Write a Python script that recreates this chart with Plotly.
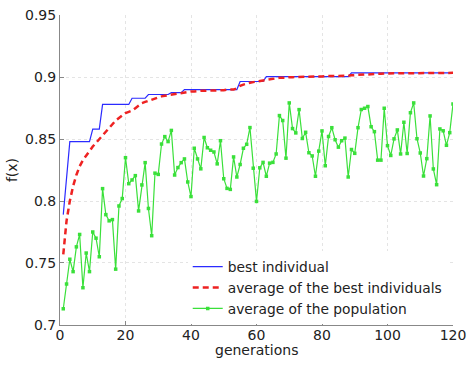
import plotly.graph_objects as go

generations = list(range(1, 121))

best_individual = (
    [0.789, 0.822] + [0.848] * 7 + [0.858] * 3 + [0.878] * 9 + [0.883] * 5
    + [0.886] * 7 + [0.8875] * 4 + [0.890] * 17 + [0.8965] * 8
    + [0.9005] * 26 + [0.9035] * 32
)

avg_best = [
    0.757, 0.784, 0.800, 0.812, 0.821, 0.828, 0.833, 0.837, 0.841, 0.844,
    0.847, 0.850, 0.853, 0.856, 0.859, 0.862, 0.865, 0.867, 0.869, 0.871,
    0.872, 0.873, 0.875, 0.877, 0.879, 0.880, 0.881, 0.882, 0.883, 0.884,
    0.8845, 0.885, 0.8855, 0.886, 0.8865, 0.887, 0.8875, 0.888, 0.888, 0.8885,
    0.8885, 0.889, 0.889, 0.889, 0.889, 0.889, 0.8895, 0.8895, 0.8895, 0.8895,
    0.890, 0.890, 0.890, 0.891, 0.893, 0.894, 0.895, 0.8955, 0.896, 0.8965,
    0.897, 0.8975, 0.898, 0.8985, 0.899, 0.899, 0.8995, 0.8995, 0.900, 0.900,
    0.900, 0.900, 0.900, 0.900, 0.9002, 0.9002, 0.9004, 0.9004, 0.9006, 0.9006,
    0.9008, 0.9008, 0.901, 0.901, 0.901, 0.901, 0.9012, 0.9012, 0.9015, 0.9018,
    0.902, 0.902, 0.9022, 0.9022, 0.9025, 0.9025, 0.9027, 0.9028, 0.903, 0.903,
    0.9032, 0.9032, 0.9032, 0.9033, 0.9033, 0.9033, 0.9033, 0.9034, 0.9034, 0.9034,
    0.9034, 0.9034, 0.9035, 0.9035, 0.9035, 0.9035, 0.9035, 0.9035, 0.9035, 0.9035,
]

avg_population = [
    0.713, 0.733, 0.753, 0.743, 0.763, 0.773, 0.730, 0.758, 0.743, 0.775,
    0.770, 0.755, 0.810, 0.789, 0.784, 0.785, 0.745, 0.796, 0.802, 0.835,
    0.814, 0.817, 0.8205, 0.792, 0.813, 0.831, 0.794, 0.772, 0.8225, 0.8215,
    0.846, 0.852, 0.848, 0.857, 0.821, 0.827, 0.831, 0.834, 0.8154, 0.8036,
    0.8426, 0.834, 0.826, 0.8513, 0.843, 0.841, 0.8396, 0.830, 0.8487, 0.818,
    0.8102, 0.8094, 0.8356, 0.8194, 0.8295, 0.8426, 0.8458, 0.8593, 0.8265, 0.7997,
    0.8268, 0.8312, 0.820, 0.8306, 0.8312, 0.838, 0.869, 0.865, 0.8346, 0.8792,
    0.8585, 0.855, 0.8738, 0.8505, 0.8555, 0.839, 0.8364, 0.820, 0.8403, 0.8566,
    0.8285, 0.8521, 0.8592, 0.8495, 0.8435, 0.8487, 0.8508, 0.8194, 0.8416, 0.8385,
    0.8592, 0.8739, 0.8749, 0.8763, 0.860, 0.856, 0.833, 0.833, 0.8749, 0.8447,
    0.8368, 0.8502, 0.8574, 0.838, 0.8636, 0.8384, 0.8713, 0.8792, 0.8503, 0.8388,
    0.8202, 0.8342, 0.8687, 0.8259, 0.8132, 0.8582, 0.8567, 0.845, 0.8552, 0.8784,
]

x_ticks = [0, 20, 40, 60, 80, 100, 120]
y_ticks = [0.7, 0.75, 0.8, 0.85, 0.9, 0.95]
y_tick_labels = ["0.7", "0.75", "0.8", "0.85", "0.9", "0.95"]

FONT = "DejaVu Sans, Liberation Sans, sans-serif"

fig = go.Figure()
fig.add_trace(go.Scatter(
    x=generations, y=best_individual, mode="lines", name="best individual",
    line=dict(color="#2b2bff", width=1.2),
))
fig.add_trace(go.Scatter(
    x=generations, y=avg_best, mode="lines", name="average of the best individuals",
    line=dict(color="#ee2222", width=2.5, dash="6px,4px"),
))
fig.add_trace(go.Scatter(
    x=generations, y=avg_population, mode="lines+markers", name="average of the population",
    line=dict(color="#3ae03a", width=1.2),
    marker=dict(color="#3ae03a", size=3.5, symbol="square"),
))

fig.update_layout(
    width=473, height=367,
    margin=dict(l=60, r=15, t=7, b=42),
    paper_bgcolor="white", plot_bgcolor="white",
    font=dict(family=FONT, size=14, color="#222"),
    showlegend=True,
    legend=dict(
        x=0.325, y=0.003, xanchor="left", yanchor="bottom",
        bgcolor="white", borderwidth=0,
        font=dict(family=FONT, size=13.8, color="#222"),
        tracegroupgap=0, itemwidth=30,
    ),
    xaxis=dict(
        range=[0, 120], tickmode="array", tickvals=x_ticks,
        showgrid=True, gridcolor="#e4e4e4", griddash="dot", gridwidth=1,
        showline=True, linecolor="#888", linewidth=1, mirror=False,
        ticks="inside", ticklen=4, tickcolor="#888",
        zeroline=False, ticklabeloverflow="allow", ticklabelstandoff=-3,
        tickfont=dict(family=FONT, size=14, color="#222"),
    ),
    yaxis=dict(
        range=[0.6999, 0.9502], tickmode="array", tickvals=y_ticks, ticktext=y_tick_labels,
        showgrid=True, gridcolor="#e4e4e4", griddash="dot", gridwidth=1,
        showline=True, linecolor="#888", linewidth=1, mirror=False,
        ticks="inside", ticklen=4, tickcolor="#888",
        zeroline=False, ticklabeloverflow="allow", ticklabelstandoff=0,
        tickfont=dict(family=FONT, size=14, color="#222"),
        title=dict(text="f(x)", standoff=4,
                   font=dict(family=FONT, size=14, color="#222")),
    ),
    annotations=[dict(
        text="generations", xref="paper", yref="paper", x=0.5, y=-0.082,
        xanchor="center", yanchor="middle", showarrow=False,
        font=dict(family=FONT, size=14, color="#222"),
    )],
)

fig.write_html("out.html")
